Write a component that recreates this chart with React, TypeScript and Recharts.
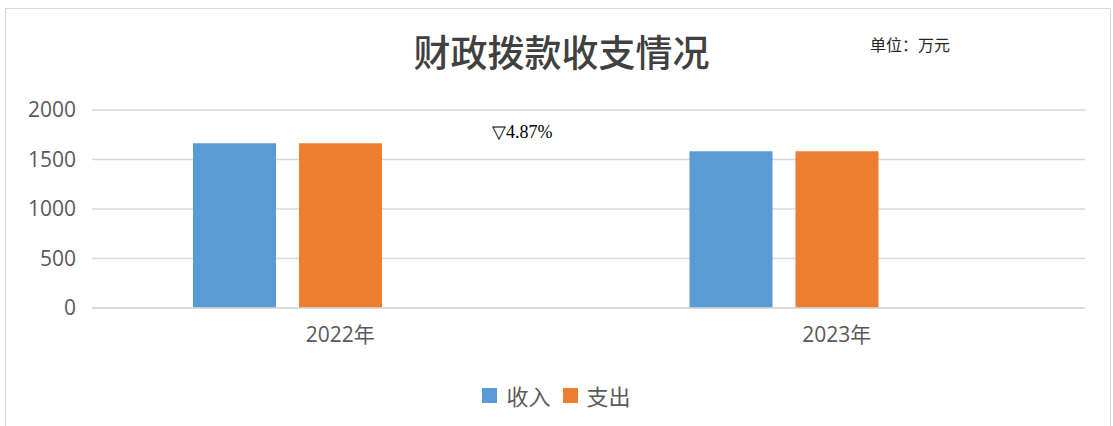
import React from 'react';
import { BarChart, Bar, XAxis, YAxis, CartesianGrid } from 'recharts';

const categories = ['2022年', '2023年'];
const incomeValues = [1665, 1584];
const expenseValues = [1665, 1584];
const blankValues: (number | null)[] = [null, null];
const yTicks = [0, 500, 1000, 1500, 2000];
const seriesNames = ['收入', '支出'];
const seriesColors = ['#5B9BD5', '#ED7D31'];
const titleText = '财政拨款收支情况';
const unitText = '单位：万元';
const changeText = '▽4.87%';

const data = categories.map((c, i) => ({
  name: c,
  income: incomeValues[i],
  expense: expenseValues[i],
  blank: blankValues[i],
}));

export default function App() {
  const font = '"Open Sans", "Noto Sans CJK SC", sans-serif';
  return (
    <div style={{ position: 'absolute', left: 0, top: 0, width: 1113, height: 426, background: '#fff', overflow: 'hidden' }}>
      <div style={{ position: 'absolute', left: 5, top: 8, width: 1106, height: 440, border: '1px solid #d9d9d9', boxSizing: 'border-box' }} />
      <div style={{ position: 'absolute', left: 0, width: 1113, top: 26, textAlign: 'center', fontFamily: '"Noto Sans CJK SC", sans-serif', fontSize: 37, fontWeight: 500, color: '#404040', lineHeight: '50px' }}>
        <span style={{ position: 'relative', left: 5 }}>{titleText}</span>
      </div>
      <div style={{ position: 'absolute', left: 870, top: 33, fontFamily: '"Noto Sans CJK SC", serif', fontSize: 16, color: '#262626', lineHeight: '22px' }}>
        {unitText}
      </div>
      <div style={{ position: 'absolute', left: 492, top: 122, fontFamily: '"Liberation Serif", serif', fontSize: 18, color: '#000', lineHeight: '20px' }}>
        {changeText}
      </div>
      <BarChart
        width={1113}
        height={426}
        data={data}
        margin={{ top: 110, right: 28, bottom: 0, left: 0 }}
        barGap={23}
        style={{ position: 'absolute', left: 0, top: 0 }}
      >
        <CartesianGrid vertical={false} stroke="#d9d9d9" strokeWidth={1.5} />
        <XAxis
          dataKey="name"
          axisLine={{ stroke: '#d9d9d9', strokeWidth: 1.5 }}
          tickLine={false}
          tickSize={0}
          tickMargin={19}
          height={118}
          tick={{ fill: '#595959', fontSize: 21, fontFamily: font }}
        />
        <YAxis
          domain={[0, 2000]}
          ticks={yTicks}
          axisLine={false}
          tickLine={false}
          tickSize={0}
          tickMargin={16}
          width={92}
          tick={{ fill: '#595959', fontSize: 21, fontFamily: font }}
        />
        <Bar dataKey="income" name={seriesNames[0]} fill={seriesColors[0]} barSize={83} isAnimationActive={false} />
        <Bar dataKey="expense" name={seriesNames[1]} fill={seriesColors[1]} barSize={83} isAnimationActive={false} />
        <Bar dataKey="blank" fill="transparent" barSize={83} legendType="none" isAnimationActive={false} />
      </BarChart>
      <div style={{ position: 'absolute', left: 0, top: 380, width: 1113, display: 'flex', justifyContent: 'center', alignItems: 'center', fontFamily: '"Noto Sans CJK SC", sans-serif', fontSize: 22, color: '#595959', lineHeight: '30px' }}>
        {seriesNames.map((n, i) => (
          <div key={n} style={{ display: 'flex', alignItems: 'center', marginLeft: i === 0 ? 0 : 12 }}>
            <div style={{ width: 15, height: 15, background: seriesColors[i], marginRight: 9 }} />
            <span>{n}</span>
          </div>
        ))}
      </div>
    </div>
  );
}
